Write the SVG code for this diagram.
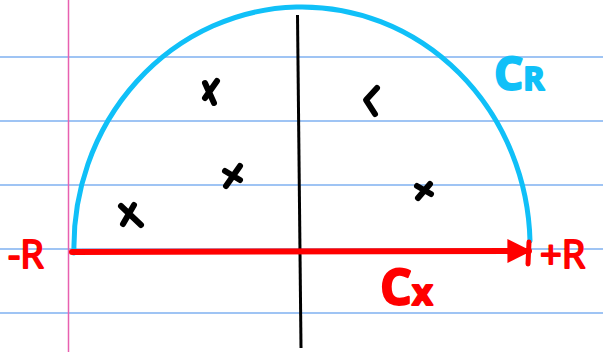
<svg xmlns="http://www.w3.org/2000/svg" width="603" height="352" viewBox="0 0 603 352">
<style>
.rule{stroke:#7fb0f0;stroke-width:1.5}
.x{stroke:#000;stroke-width:6;stroke-linecap:round;stroke-linejoin:round;fill:none}
.red{fill:#ff0000;stroke:#ff0000;stroke-width:2;stroke-linejoin:round;font-family:"Open Sans","DejaVu Sans",sans-serif}
.blue{fill:#10c0f8;stroke:#10c0f8;stroke-width:2;stroke-linejoin:round;font-family:"Open Sans","DejaVu Sans",sans-serif}
</style>
<defs>
<marker id="ah" markerWidth="4" markerHeight="4" refX="3.6" refY="2" orient="auto" markerUnits="strokeWidth">
<path d="M0,0 L4,2 L0,4 z" fill="#ff0000"/>
</marker>
</defs>
<rect width="603" height="352" fill="#fff"/>
<g id="paper">
<line class="rule" x1="0" y1="57" x2="603" y2="57"/>
<line class="rule" x1="0" y1="121" x2="603" y2="121"/>
<line class="rule" x1="0" y1="185" x2="603" y2="185"/>
<line class="rule" x1="0" y1="249" x2="603" y2="249"/>
<line class="rule" x1="0" y1="313" x2="603" y2="313"/>
<line x1="68.5" y1="0" x2="68.5" y2="352" stroke="#e860b0" stroke-width="1.5"/>
</g>
<g id="connectors">
<line x1="297.5" y1="15" x2="301" y2="348" stroke="#000" stroke-width="3"/>
<path d="M74,253 A228,240 0 0 1 530,241" fill="none" stroke="#10c0f8" stroke-width="5" stroke-linecap="round"/>
<line x1="72" y1="252" x2="529" y2="251" stroke="#ff0000" stroke-width="6" stroke-linecap="round" marker-end="url(#ah)"/>
<line x1="529" y1="242" x2="528" y2="264" stroke="#ff0000" stroke-width="5" stroke-linecap="round"/>
</g>
<g id="poles">
<path class="x" d="M205,83 L214,103 M217,81 L205,98"/>
<path class="x" d="M226,186 L240,166 M225,171 L240,180"/>
<path class="x" d="M121,206 L141,225 M134,205 L123,224"/>
<path class="x" d="M377,88 L366,100 L375,114"/>
<path class="x" d="M418,198 L430,184 M417,186 L431,194"/>
</g>
<g id="labels">
<text class="red" x="8" y="268" font-size="38">-R</text>
<text class="red" x="540" y="268" font-size="38">+R</text>
<text class="red" x="380" y="305" font-size="50" font-weight="bold">C<tspan font-size="36">x</tspan></text>
<text class="blue" x="494" y="90" font-size="46" font-weight="bold">C<tspan font-size="32">R</tspan></text>
</g>
</svg>
